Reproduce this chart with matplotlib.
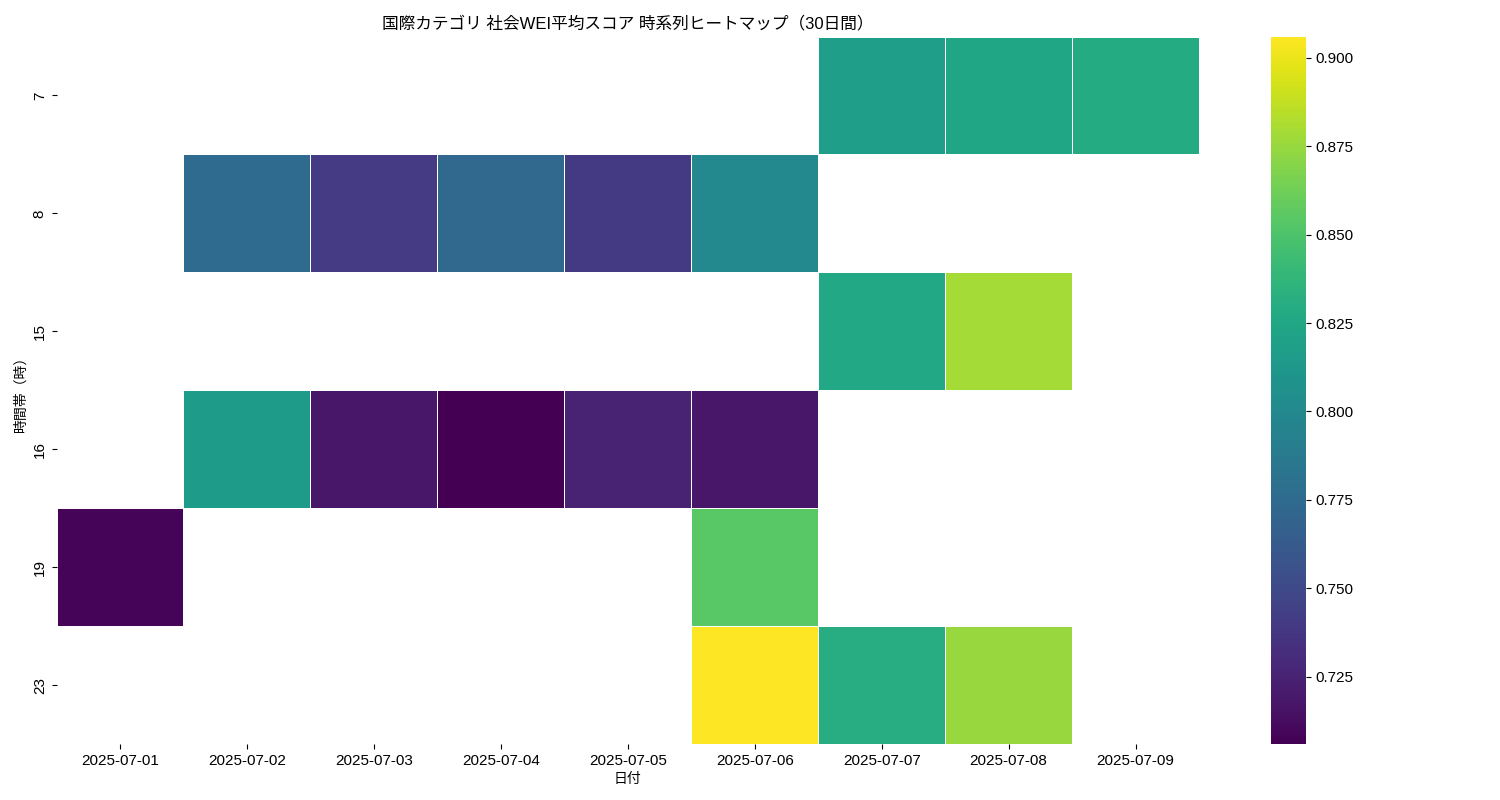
import matplotlib
matplotlib.use('Agg')
import matplotlib.pyplot as plt
import numpy as np
import pandas as pd
import seaborn as sns

plt.rcParams['font.family'] = ['Liberation Sans', 'Noto Sans CJK JP', 'DejaVu Sans']

dates = ['2025-07-01', '2025-07-02', '2025-07-03', '2025-07-04', '2025-07-05',
         '2025-07-06', '2025-07-07', '2025-07-08', '2025-07-09']
hours = [7, 8, 15, 16, 19, 23]
nan = np.nan
row_07 = [nan, nan, nan, nan, nan, nan, 0.817, 0.824, 0.828]
row_08 = [nan, 0.775, 0.741, 0.773, 0.739, 0.800, nan, nan, nan]
row_15 = [nan, nan, nan, nan, nan, nan, 0.826, 0.879, nan]
row_16 = [nan, 0.816, 0.718, 0.706, 0.725, 0.718, nan, nan, nan]
row_19 = [0.708, nan, nan, nan, nan, 0.854, nan, nan, nan]
row_23 = [nan, nan, nan, nan, nan, 0.906, 0.831, 0.875, nan]

df = pd.DataFrame([row_07, row_08, row_15, row_16, row_19, row_23], index=hours, columns=dates)

fig, ax = plt.subplots(figsize=(15, 8))
sns.heatmap(df, cmap='viridis', linewidths=0.5, linecolor='white', ax=ax)
ax.set_title('国際カテゴリ 社会WEI平均スコア 時系列ヒートマップ（30日間）', fontsize=12, pad=6)
ax.set_xlabel('日付', fontsize=10, labelpad=3)
ax.set_ylabel('時間帯（時）', fontsize=10)
ax.tick_params(axis='both', labelsize=11)
plt.setp(ax.get_xticklabels(), rotation=0)
plt.setp(ax.get_yticklabels(), rotation=90, va='center')

# colorbar sits apart from the heatmap in the original
ax.set_position([56.5/1500, 1-744/800, 1142.5/1500, 707.5/800])
cax = fig.axes[1]
cax.set_box_aspect(707.5/35)
cax.set_position([1271/1500, 1-744/800, 35/1500, 707.5/800])
cax.tick_params(labelsize=11)
fig.savefig('out.png', dpi=100)
